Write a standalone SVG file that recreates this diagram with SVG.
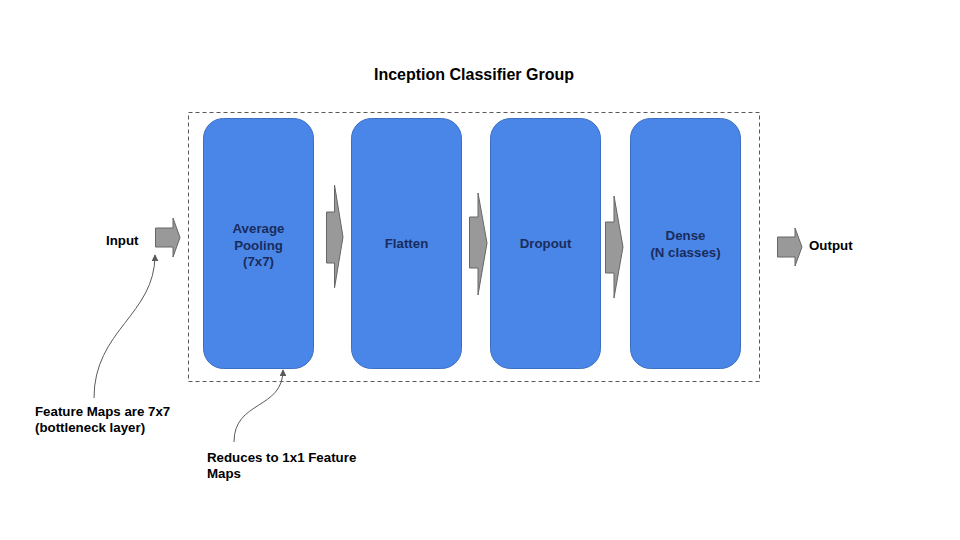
<svg xmlns="http://www.w3.org/2000/svg" width="960" height="540" viewBox="0 0 960 540">
<defs>
<style>
.node{fill:#4a86e8;stroke:#3d6fc0;stroke-width:1}
.ntext{font-family:"Liberation Sans",Arial,sans-serif;font-weight:bold;font-size:13.3px;fill:#1a2c5c;text-anchor:middle}
.label{font-family:"Liberation Sans",Arial,sans-serif;font-weight:bold;font-size:13.3px;fill:#000}
.title{font-family:"Liberation Sans",Arial,sans-serif;font-weight:bold;font-size:16px;fill:#000;text-anchor:middle}
.blk{fill:#999999;stroke:#666666;stroke-width:1}
.curve{fill:none;stroke:#595959;stroke-width:1}
</style>
<marker id="ah" viewBox="0 0 10 10" refX="9" refY="5" markerWidth="7" markerHeight="7" markerUnits="userSpaceOnUse" orient="auto">
<path d="M0,0 L10,5 L0,10 z" fill="#595959"/>
</marker>
</defs>
<rect width="960" height="540" fill="#ffffff"/>
<text class="title" x="474" y="80">Inception Classifier Group</text>
<g id="group">
<rect x="188.5" y="112.5" width="571" height="269" fill="none" stroke="#595959" stroke-width="1" stroke-dasharray="4,3"/>
</g>
<g id="node-avgpool">
<rect class="node" x="203.5" y="118.5" width="110" height="250" rx="20"/>
<text class="ntext" x="258.5" y="233">Average</text>
<text class="ntext" x="258.5" y="249.5">Pooling</text>
<text class="ntext" x="258.5" y="266">(7x7)</text>
</g>
<g id="node-flatten">
<rect class="node" x="351.5" y="118.5" width="110" height="250" rx="20"/>
<text class="ntext" x="406.5" y="248">Flatten</text>
</g>
<g id="node-dropout">
<rect class="node" x="490.5" y="118.5" width="110" height="250" rx="20"/>
<text class="ntext" x="545.5" y="248">Dropout</text>
</g>
<g id="node-dense">
<rect class="node" x="630.5" y="118.5" width="110" height="250" rx="20"/>
<text class="ntext" x="685.5" y="240">Dense</text>
<text class="ntext" x="685.5" y="256.5">(N classes)</text>
</g>
<g id="node-input">
<text class="label" x="106" y="245">Input</text>
</g>
<g id="node-output">
<text class="label" x="809" y="250">Output</text>
</g>
<g id="note-featuremaps">
<text class="label" x="35" y="416">Feature Maps are 7x7</text>
<text class="label" x="35" y="432">(bottleneck layer)</text>
</g>
<g id="note-reduces">
<text class="label" x="207" y="462">Reduces to 1x1 Feature</text>
<text class="label" x="207" y="478">Maps</text>
</g>
<g id="connectors">
<path class="blk" d="M155.5,228 H173 V218 L180,237.5 L173,257 V247 H155.5 Z"/>
<path class="blk" d="M326.5,212 H334.5 V185 L343,237 L334.5,288 V263 H326.5 Z"/>
<path class="blk" d="M469.5,217 H478 V193 L487,243 L478,295 V268 H469.5 Z"/>
<path class="blk" d="M605.5,222 H614 V196 L623,247 L614,298 V273 H605.5 Z"/>
<path class="blk" d="M777.5,237 H795 V228 L802,247 L795,266 V257 H777.5 Z"/>
<path class="curve" d="M94,398 C94,330 155,315 155,255" marker-end="url(#ah)"/>
<path class="curve" d="M234,442 C234,400 283,410 283,370" marker-end="url(#ah)"/>
</g>
</svg>
